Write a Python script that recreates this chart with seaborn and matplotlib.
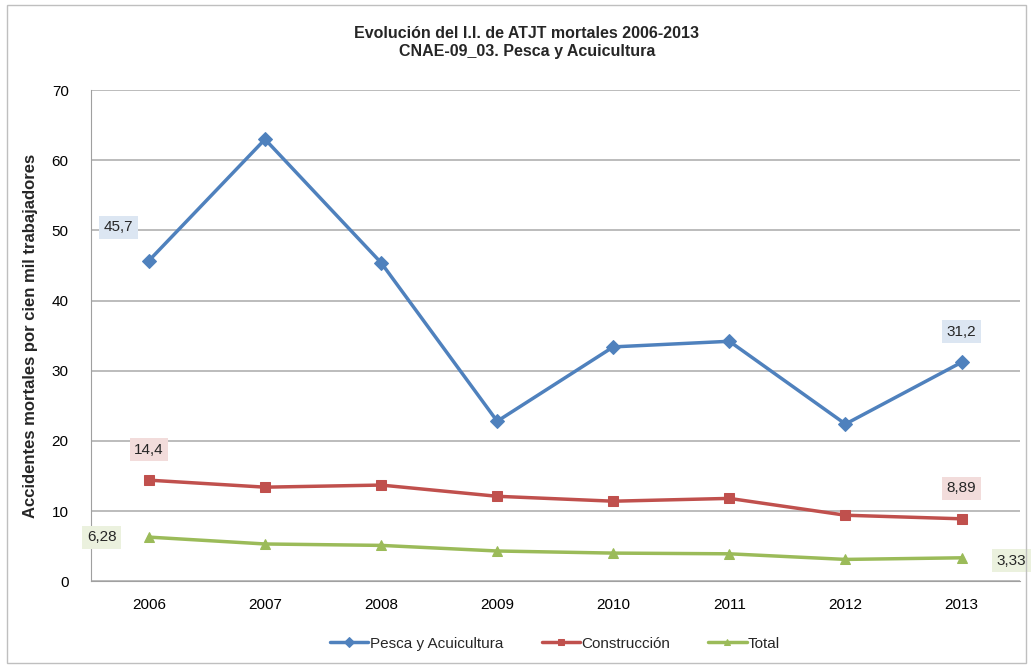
import pandas as pd
import seaborn as sns
import matplotlib.pyplot as plt
from matplotlib.patches import Rectangle

years = ["2006", "2007", "2008", "2009", "2010", "2011", "2012", "2013"]
pesca = [45.7, 63.0, 45.4, 22.8, 33.4, 34.2, 22.4, 31.2]
construccion = [14.4, 13.4, 13.7, 12.1, 11.4, 11.8, 9.4, 8.89]
total = [6.28, 5.3, 5.1, 4.3, 4.0, 3.9, 3.1, 3.33]

series = ["Pesca y Acuicultura", "Construcción", "Total"]
colors = ["#4F81BD", "#C0504D", "#9BBB59"]
markers = ["D", "s", "^"]
box_colors = ["#DCE6F2", "#F2DCDB", "#EBF1DE"]

df = pd.DataFrame({"year": years * 3,
                   "value": pesca + construccion + total,
                   "serie": [s for s in series for _ in years]})

sns.set_style("white")
plt.rcParams["font.family"] = ["Liberation Sans", "DejaVu Sans"]

fig = plt.figure(figsize=(10.33, 6.68), dpi=100)
ax = fig.add_axes([0.088, 0.130, 0.899, 0.735])

for s, c, m in zip(series, colors, markers):
    d = df[df.serie == s]
    sns.lineplot(data=d, x="year", y="value", color=c, marker=m, markersize=7,
                 markeredgecolor=c, linewidth=2.5, label=s, ax=ax, sort=False)

ax.set_xlim(-0.5, 7.5)
ax.set_ylim(0, 70)
ax.set_yticks(range(0, 71, 10))
ax.grid(axis="y", color="#B0B0B0", linewidth=1.2)
ax.set_axisbelow(True)
for side in ["top", "right"]:
    ax.spines[side].set_visible(False)
for side in ["left", "bottom"]:
    ax.spines[side].set_color("#A0A0A0")
ax.tick_params(axis="both", labelsize=11, colors="black", length=0, pad=12)
ax.tick_params(axis="y", pad=16)
ax.set_xlabel("")
ax.set_ylabel("Accidentes mortales por cien mil trabajadores", fontsize=12,
              fontweight="bold", labelpad=10)

fig.text(0.51, 0.937, "Evolución del I.I. de ATJT mortales 2006-2013\nCNAE-09_03. Pesca y Acuicultura",
         ha="center", va="center", fontsize=11.5, fontweight="bold", linespacing=1.25)

# data labels at first and last points
labels = [
    (0, pesca[0], "45,7", box_colors[0], (-22, 24)),
    (7, pesca[7], "31,2", box_colors[0], (0, 22)),
    (0, construccion[0], "14,4", box_colors[1], (0, 22)),
    (7, construccion[7], "8,89", box_colors[1], (0, 22)),
    (0, total[0], "6,28", box_colors[2], (-34, 0)),
    (7, total[7], "3,33", box_colors[2], (36, -2)),
]
for x, y, t, bc, off in labels:
    ax.annotate(t, (x, y), xytext=off, textcoords="offset points", ha="center",
                va="center", fontsize=11,
                bbox=dict(boxstyle="square,pad=0.3", fc=bc, ec="none"))

leg = ax.legend(loc="upper center", bbox_to_anchor=(0.5, -0.085), ncol=3,
                frameon=False, fontsize=11, handlelength=2.5, columnspacing=2.5,
                handletextpad=0.1, markerscale=0.7)

fig.patches.append(Rectangle((0.007, 0.007), 0.986, 0.986, transform=fig.transFigure,
                             fill=False, edgecolor="#BFBFBF", linewidth=1))

fig.savefig("out.png", dpi=100)
